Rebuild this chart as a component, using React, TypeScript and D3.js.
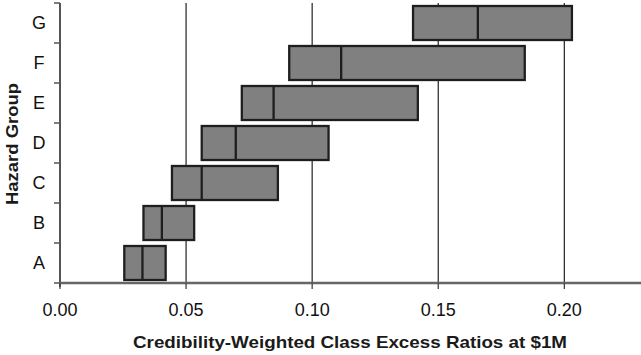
import React from "react";
import * as d3 from "d3";

const categories = ["A", "B", "C", "D", "E", "F", "G"];
const lowValues = [0.0255, 0.0331, 0.0444, 0.0562, 0.0721, 0.0909, 0.14];
const midValues = [0.0327, 0.0404, 0.0562, 0.0697, 0.0847, 0.1115, 0.1657];
const highValues = [0.0419, 0.0532, 0.0864, 0.1065, 0.1419, 0.1843, 0.203];
const xTicks = [0, 0.05, 0.1, 0.15, 0.2];
const gridTicks = [0.05, 0.1, 0.15, 0.2];

const W = 641;
const H = 355;
const left = 60;
const right = 640;
const top = 3;
const bottom = 283;

export default function App() {
  const x = d3.scaleLinear().domain([0, 0.23]).range([left, right]);
  const y = d3
    .scaleBand<string>()
    .domain([...categories].reverse())
    .range([top, bottom])
    .paddingInner(0.15)
    .paddingOuter(0.075);
  const yb = d3.scaleLinear().domain([0, categories.length]).range([bottom, top]);
  const font = "Arial, 'Liberation Sans', sans-serif";
  return (
    <svg
      width={W}
      height={H}
      style={{ position: "absolute", left: 0, top: 0, background: "#fff" }}
    >
      {gridTicks.map((t) => (
        <line
          key={"g" + t}
          x1={x(t)}
          x2={x(t)}
          y1={top}
          y2={bottom}
          stroke="#333"
          strokeWidth={1.3}
        />
      ))}
      {categories.map((c, i) => {
        const by = y(c)!;
        const bh = y.bandwidth();
        return (
          <g key={c}>
            <rect
              x={x(lowValues[i])}
              y={by}
              width={x(highValues[i]) - x(lowValues[i])}
              height={bh}
              fill="#808080"
              stroke="#1e1e1e"
              strokeWidth={2.3}
            />
            <line
              x1={x(midValues[i])}
              x2={x(midValues[i])}
              y1={by}
              y2={by + bh}
              stroke="#1e1e1e"
              strokeWidth={2.3}
            />
          </g>
        );
      })}
      {/* y axis */}
      <line x1={left} x2={left} y1={top} y2={bottom + 4} stroke="#555" strokeWidth={2} />
      {d3.range(0, categories.length + 1).map((k) => (
        <line
          key={"yt" + k}
          x1={left - 6}
          x2={left}
          y1={yb(k)}
          y2={yb(k)}
          stroke="#555"
          strokeWidth={1.5}
        />
      ))}
      {categories.map((c) => (
        <text
          key={"yl" + c}
          x={39}
          y={y(c)! + y.bandwidth() / 2}
          dy="0.36em"
          textAnchor="middle"
          fontFamily={font}
          fontSize={18}
          fill="#111"
        >
          {c}
        </text>
      ))}
      {/* x axis */}
      <line x1={left} x2={W} y1={bottom} y2={bottom} stroke="#666" strokeWidth={2.5} />
      {xTicks.map((t) => (
        <line
          key={"xt" + t}
          x1={x(t)}
          x2={x(t)}
          y1={bottom}
          y2={bottom + 6}
          stroke="#444"
          strokeWidth={1.3}
        />
      ))}
      {xTicks.map((t) => (
        <text
          key={"xl" + t}
          x={x(t)}
          y={316}
          textAnchor="middle"
          fontFamily={font}
          fontSize={18}
          fill="#111"
        >
          {d3.format(".2f")(t)}
        </text>
      ))}
      <text
        x={350}
        y={348}
        textAnchor="middle"
        fontFamily={font}
        fontSize={17}
        fontWeight="bold"
        fill="#1a1a1a"
        textLength={434}
        lengthAdjust="spacingAndGlyphs"
      >
        Credibility-Weighted Class Excess Ratios at $1M
      </text>
      <text
        transform={`translate(18,144) rotate(-90)`}
        textAnchor="middle"
        fontFamily={font}
        fontSize={17}
        fontWeight="bold"
        fill="#1a1a1a"
        textLength={122}
        lengthAdjust="spacingAndGlyphs"
      >
        Hazard Group
      </text>
    </svg>
  );
}
